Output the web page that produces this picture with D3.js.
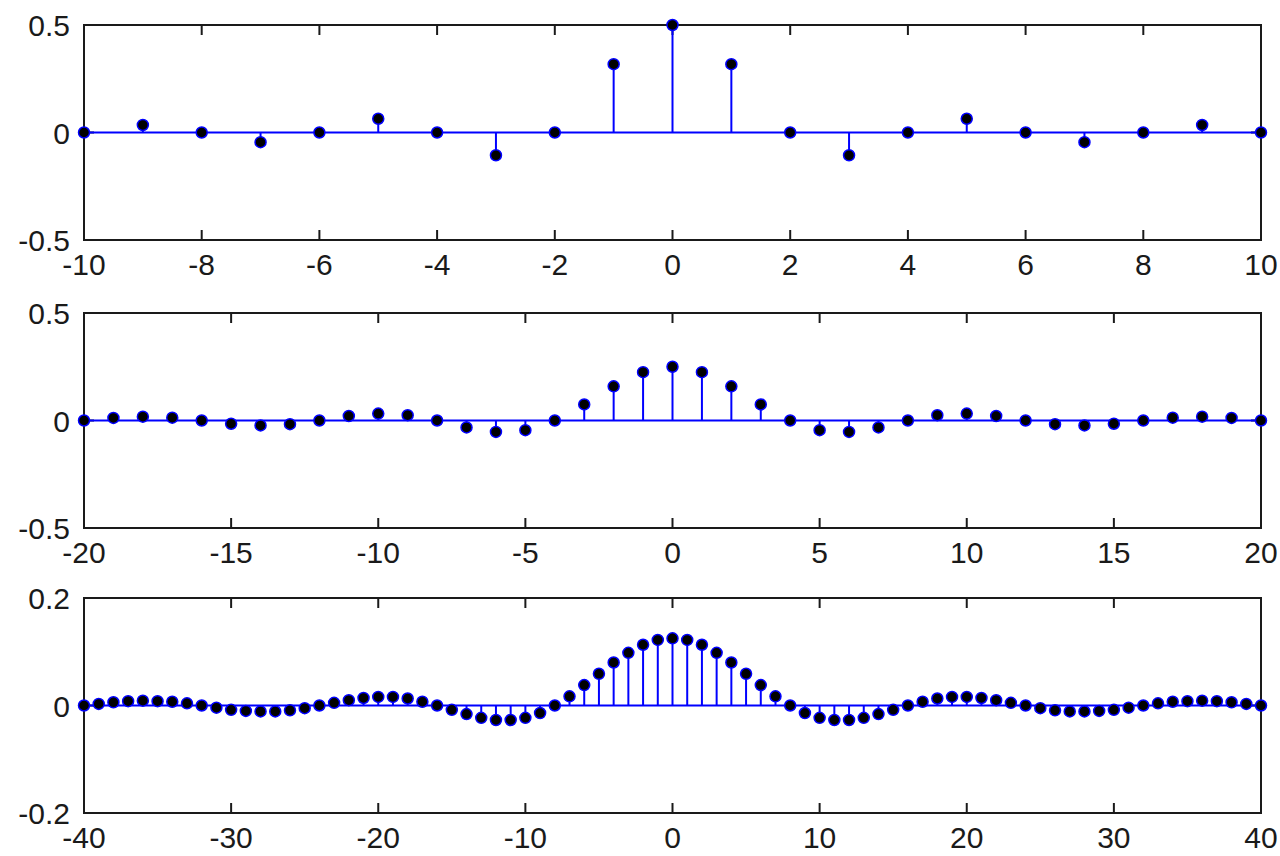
<!DOCTYPE html>
<html>
<head>
<meta charset="utf-8">
<script src="https://cdn.jsdelivr.net/npm/d3@7"></script>
<style>
  body { margin: 0; background: #fff; }
  svg { display: block; }
  .tick-label { font-family: "Liberation Sans", Arial, sans-serif; font-size: 30px; fill: #1a1a1a; }
</style>
</head>
<body>
<div id="chart"></div>
<script>
// sample values, one array per panel
var topStart = -10;
var topValues = [0, 0.035, 0, -0.045, 0, 0.064, 0, -0.106, 0, 0.318, 0.5,
                 0.318, 0, -0.106, 0, 0.064, 0, -0.045, 0, 0.035, 0];

var midStart = -20;
var midValues = [0, 0.012, 0.018, 0.013, 0, -0.015, -0.023, -0.017, 0, 0.021, 0.032,
                 0.025, 0, -0.032, -0.053, -0.045, 0, 0.075, 0.159, 0.225, 0.25,
                 0.225, 0.159, 0.075, 0, -0.045, -0.053, -0.032, 0, 0.025, 0.032,
                 0.021, 0, -0.017, -0.023, -0.015, 0, 0.013, 0.018, 0.012, 0];

var botStart = -40;
var botValues = [0, 0.003, 0.006, 0.008, 0.009, 0.008, 0.007, 0.004, 0, -0.004,
                 -0.008, -0.010, -0.011, -0.011, -0.009, -0.005, 0, 0.005, 0.010, 0.014,
                 0.016, 0.016, 0.013, 0.007, 0, -0.008, -0.016, -0.023, -0.027, -0.027,
                 -0.023, -0.014, 0, 0.017, 0.038, 0.059, 0.080, 0.098, 0.113, 0.122,
                 0.125,
                 0.122, 0.113, 0.098, 0.080, 0.059, 0.038, 0.017, 0, -0.014, -0.023,
                 -0.027, -0.027, -0.023, -0.016, -0.008, 0, 0.007, 0.013, 0.016, 0.016,
                 0.014, 0.010, 0.005, 0, -0.005, -0.009, -0.011, -0.011, -0.010, -0.008,
                 -0.004, 0, 0.004, 0.007, 0.008, 0.009, 0.008, 0.006, 0.003, 0];

var topXTicks = [-10, -8, -6, -4, -2, 0, 2, 4, 6, 8, 10];
var midXTicks = [-20, -15, -10, -5, 0, 5, 10, 15, 20];
var botXTicks = [-40, -30, -20, -10, 0, 10, 20, 30, 40];

var topYTicks = [-0.5, 0, 0.5];
var midYTicks = [-0.5, 0, 0.5];
var botYTicks = [-0.2, 0, 0.2];

const width = 1280, height = 856;
const axLeft = 84, axRight = 1261, axHeight = 215;
const tickLen = 10;
const colorStem = "#0000ff", colorMarker = "#000000", colorAxis = "#1a1a1a";

var svg = d3.select("#chart")
            .append("svg")
            .attr("width", width)
            .attr("height", height);

var panels = [
  {top: 25,  start: topStart, values: topValues, xDomain: [-10, 10], yDomain: [-0.5, 0.5], xTicks: topXTicks, yTicks: topYTicks},
  {top: 313, start: midStart, values: midValues, xDomain: [-20, 20], yDomain: [-0.5, 0.5], xTicks: midXTicks, yTicks: midYTicks},
  {top: 598, start: botStart, values: botValues, xDomain: [-40, 40], yDomain: [-0.2, 0.2], xTicks: botXTicks, yTicks: botYTicks}
];

function drawPanel(p) {
    var x = d3.scaleLinear().domain(p.xDomain).range([axLeft, axRight]);
    var y = d3.scaleLinear().domain(p.yDomain).range([p.top + axHeight, p.top]);
    var bottom = p.top + axHeight;

    var data = p.values.map((v, i) => ({n: p.start + i, v: v}));

    var g = svg.append("g");

    // box
    g.append("rect")
     .attr("x", axLeft)
     .attr("y", p.top)
     .attr("width", axRight - axLeft)
     .attr("height", axHeight)
     .attr("fill", "none")
     .attr("stroke", colorAxis)
     .attr("stroke-width", 2);

    // x ticks, bottom and top edges, pointing inward
    g.selectAll(".xtick-b")
     .data(p.xTicks)
     .enter()
     .append("line")
     .attr("x1", d => x(d)).attr("x2", d => x(d))
     .attr("y1", bottom).attr("y2", bottom - tickLen)
     .attr("stroke", colorAxis).attr("stroke-width", 2);

    g.selectAll(".xtick-t")
     .data(p.xTicks)
     .enter()
     .append("line")
     .attr("x1", d => x(d)).attr("x2", d => x(d))
     .attr("y1", p.top).attr("y2", p.top + tickLen)
     .attr("stroke", colorAxis).attr("stroke-width", 2);

    // y ticks, left and right
    g.selectAll(".ytick-l")
     .data(p.yTicks)
     .enter()
     .append("line")
     .attr("x1", axLeft).attr("x2", axLeft + tickLen)
     .attr("y1", d => y(d)).attr("y2", d => y(d))
     .attr("stroke", colorAxis).attr("stroke-width", 2);

    g.selectAll(".ytick-r")
     .data(p.yTicks)
     .enter()
     .append("line")
     .attr("x1", axRight).attr("x2", axRight - tickLen)
     .attr("y1", d => y(d)).attr("y2", d => y(d))
     .attr("stroke", colorAxis).attr("stroke-width", 2);

    // tick labels
    g.selectAll(".xlabel")
     .data(p.xTicks)
     .enter()
     .append("text")
     .attr("class", "tick-label")
     .attr("x", d => x(d))
     .attr("y", bottom + 35)
     .attr("text-anchor", "middle")
     .text(d => d);

    g.selectAll(".ylabel")
     .data(p.yTicks)
     .enter()
     .append("text")
     .attr("class", "tick-label")
     .attr("x", axLeft - 14)
     .attr("y", d => y(d) + 11)
     .attr("text-anchor", "end")
     .text(d => d);

    // baseline
    g.append("line")
     .attr("x1", x(p.xDomain[0])).attr("x2", x(p.xDomain[1]))
     .attr("y1", y(0)).attr("y2", y(0))
     .attr("stroke", colorStem).attr("stroke-width", 2);

    // stems
    g.selectAll(".stem")
     .data(data)
     .enter()
     .append("line")
     .attr("x1", d => x(d.n)).attr("x2", d => x(d.n))
     .attr("y1", y(0)).attr("y2", d => y(d.v))
     .attr("stroke", colorStem).attr("stroke-width", 2);

    // markers
    g.selectAll(".marker")
     .data(data)
     .enter()
     .append("circle")
     .attr("cx", d => x(d.n))
     .attr("cy", d => y(d.v))
     .attr("r", 5.5)
     .attr("fill", colorMarker)
     .attr("stroke", colorStem)
     .attr("stroke-width", 1.5);
}

panels.forEach(drawPanel);
</script>
</body>
</html>
